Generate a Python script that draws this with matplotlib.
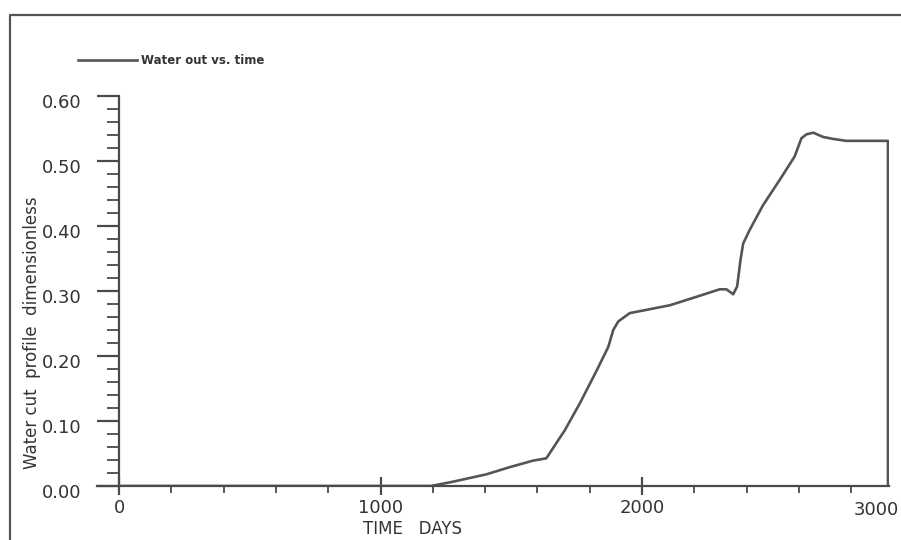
import matplotlib
matplotlib.use("Agg")
import matplotlib.pyplot as plt
import matplotlib.transforms as mtransforms
from matplotlib.lines import Line2D
from matplotlib.ticker import MultipleLocator

# --- Dados: water cut (adimensional) x tempo (dias) ---
tempo_dias = [0, 1193, 1277, 1405, 1494, 1583, 1634, 1705, 1762, 1827, 1871,
              1890, 1909, 1953, 2017, 2106, 2208, 2297, 2323, 2349, 2364,
              2377, 2387, 2412, 2463, 2527, 2584, 2610, 2629, 2655, 2693,
              2731, 2782, 2941, 2941]
water_cut = [0.0, 0.0, 0.0066, 0.018, 0.029, 0.039, 0.0426, 0.086, 0.127,
             0.178, 0.214, 0.240, 0.253, 0.266, 0.271, 0.278, 0.291, 0.3026,
             0.3026, 0.295, 0.307, 0.348, 0.373, 0.394, 0.432, 0.471, 0.507,
             0.535, 0.541, 0.5436, 0.537, 0.534, 0.531, 0.531, 0.0]

x_ticks = [0, 1000, 2000]
y_ticks = [0.0, 0.1, 0.2, 0.3, 0.4, 0.5, 0.6]
legenda = "Water out vs. time"
COR = "#4a4a4a"

fig = plt.figure(figsize=(9.01, 5.40), dpi=100)
ax = fig.add_axes([97 / 901, 0.10, 792 / 901, 0.7222])

ax.plot(tempo_dias, water_cut, color="#555555", lw=1.9, label=legenda)

ax.set_xlim(-85, 2945)
ax.set_ylim(0, 0.6)

# eixos no estilo plotter: so a linha de baixo e a da esquerda
for lado in ["top", "right"]:
    ax.spines[lado].set_visible(False)
ax.spines["left"].set_position(("data", 0))
ax.spines["left"].set_color(COR)
ax.spines["left"].set_linewidth(1.6)
ax.spines["bottom"].set_color(COR)
ax.spines["bottom"].set_linewidth(1.6)

ax.set_xticks(x_ticks)
ax.set_xticklabels([str(v) for v in x_ticks])
ax.xaxis.set_minor_locator(MultipleLocator(200))
ax.set_yticks(y_ticks)
ax.set_yticklabels([f"{v:.2f}" for v in y_ticks])
ax.yaxis.set_minor_locator(MultipleLocator(0.02))

ax.tick_params(axis="x", which="major", direction="inout", length=13, width=1.6,
               color=COR, labelsize=13, pad=3, labelcolor="#333333")
ax.tick_params(axis="x", which="minor", direction="out", length=5, width=1.3, color=COR)
ax.tick_params(axis="y", which="major", direction="out", length=16, width=1.6,
               color=COR, labelsize=13, pad=11, labelcolor="#333333")
ax.tick_params(axis="y", which="minor", direction="out", length=9, width=1.3, color=COR)

# rotulos do eixo y ficam um pouco abaixo das marcas
desloc = mtransforms.ScaledTranslation(0, -5 / 100, fig.dpi_scale_trans)
for rot in ax.get_yticklabels():
    rot.set_transform(rot.get_transform() + desloc)

# o rotulo 3000 fica encostado no fim do eixo
ax.text(1.012, -0.038, "3000", transform=ax.transAxes, ha="right", va="top",
        fontsize=13, color="#333333")

ax.set_xlabel("TIME   DAYS", fontsize=12, color="#333333")
ax.xaxis.set_label_coords(0.398, -0.086)
ax.set_ylabel("Water cut  profile  dimensionless", fontsize=12, color="#333333")
ax.yaxis.set_label_coords(-0.071, 0.392)

ax.legend(loc="center left", bbox_to_anchor=(78 / 901, 1 - 61 / 540),
          bbox_transform=fig.transFigure, frameon=False, borderpad=0,
          borderaxespad=0, handlelength=5.0, handletextpad=0.3,
          prop={"size": 8.5, "weight": "bold"}, labelcolor="#333333")

# moldura em volta do grafico
fig.add_artist(Line2D([10 / 901, 10 / 901, 1.0], [0.0, 1 - 15 / 540, 1 - 15 / 540],
                      transform=fig.transFigure, color="#555555", lw=1.6))

fig.savefig("out.png", dpi=100)
